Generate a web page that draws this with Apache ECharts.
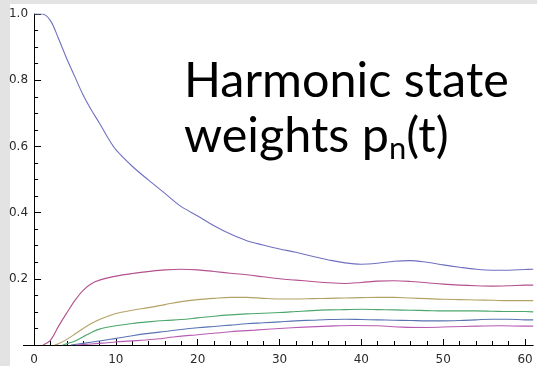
<!DOCTYPE html>
<html>
<head>
<meta charset="utf-8">
<script src="https://cdn.jsdelivr.net/npm/echarts@6/dist/echarts.min.js"></script>
<style>
  html, body { margin: 0; padding: 0; background: #e3e3e3; }
  #panel { position: absolute; left: 10px; top: 4px; width: 527px; height: 362px; background: #ffffff; }
  #chart { position: absolute; left: 0; top: 0; width: 537px; height: 366px; }
</style>
</head>
<body>
<div id="panel"></div>
<div id="chart"></div>
<script>
// Tick values for the two axes
const xMajorTicks = [0, 10, 20, 30, 40, 50, 60];
const xMinorTicks = [2, 4, 6, 8, 12, 14, 16, 18, 22, 24, 26, 28, 32, 34, 36, 38,
                     42, 44, 46, 48, 52, 54, 56, 58];
const yTickLabels = [0.2, 0.4, 0.6, 0.8, 1.0];

// Occupation probabilities p_n(t) of the lowest harmonic states, n = 0..5
const p0 = [[0, 1.0], [1, 1.0], [2, 0.98], [3, 0.925], [4, 0.865], [5, 0.81], [6, 0.755],
  [7, 0.71], [8, 0.67], [9, 0.627], [10, 0.59], [12, 0.54], [14, 0.498], [16, 0.458],
  [18, 0.418], [20, 0.39], [22, 0.36], [24, 0.335], [26, 0.315], [28, 0.302], [30, 0.29],
  [32, 0.28], [34, 0.268], [36, 0.257], [38, 0.248], [40, 0.244], [42, 0.247], [44, 0.253],
  [46, 0.255], [48, 0.25], [50, 0.242], [52, 0.235], [54, 0.229], [56, 0.226], [58, 0.226],
  [60, 0.228], [61, 0.229]];
const p1 = [[1.1, 0], [2, 0.014], [3, 0.057], [4, 0.097], [5, 0.135], [6, 0.165], [7, 0.185],
  [8, 0.196], [10, 0.208], [12, 0.216], [14, 0.222], [16, 0.227], [18, 0.229], [20, 0.227],
  [22, 0.222], [24, 0.217], [26, 0.212], [28, 0.206], [30, 0.2], [32, 0.196], [34, 0.192],
  [36, 0.188], [38, 0.186], [40, 0.189], [42, 0.193], [44, 0.194], [46, 0.192], [48, 0.188],
  [50, 0.184], [52, 0.181], [54, 0.179], [56, 0.178], [58, 0.179], [60, 0.181], [61, 0.181]];
const p2 = [[2.5, 0], [3, 0.004], [4, 0.017], [5, 0.033], [6, 0.05], [7, 0.065], [8, 0.077],
  [10, 0.095], [12, 0.105], [14, 0.113], [16, 0.122], [18, 0.131], [20, 0.137], [22, 0.141],
  [24, 0.144], [26, 0.144], [28, 0.141], [30, 0.139], [32, 0.139], [34, 0.14], [36, 0.141],
  [38, 0.142], [40, 0.143], [42, 0.144], [44, 0.144], [46, 0.142], [48, 0.14], [50, 0.138],
  [52, 0.137], [54, 0.136], [56, 0.135], [58, 0.134], [60, 0.134], [61, 0.134]];
const p3 = [[3.5, 0], [5, 0.012], [6, 0.025], [7, 0.038], [8, 0.048], [10, 0.058], [12, 0.065],
  [14, 0.07], [16, 0.074], [18, 0.077], [20, 0.082], [22, 0.087], [24, 0.091], [26, 0.094],
  [28, 0.096], [30, 0.098], [32, 0.101], [34, 0.104], [36, 0.106], [38, 0.107], [40, 0.108],
  [42, 0.107], [44, 0.106], [46, 0.105], [48, 0.104], [50, 0.103], [52, 0.103], [54, 0.103],
  [56, 0.102], [58, 0.101], [60, 0.101], [61, 0.1]];
const p4 = [[4.5, 0], [6, 0.005], [8, 0.012], [10, 0.02], [12, 0.028], [14, 0.035], [16, 0.041],
  [18, 0.047], [20, 0.052], [22, 0.056], [24, 0.06], [26, 0.064], [28, 0.067], [30, 0.07],
  [32, 0.073], [34, 0.075], [36, 0.077], [38, 0.078], [40, 0.077], [42, 0.076], [44, 0.075],
  [46, 0.074], [48, 0.073], [50, 0.073], [52, 0.074], [54, 0.076], [56, 0.078], [58, 0.078],
  [60, 0.076], [61, 0.076]];
const p5 = [[5, 0], [7, 0.003], [9, 0.007], [11, 0.011], [13, 0.014], [15, 0.018], [17, 0.024],
  [19, 0.029], [21, 0.033], [24, 0.04], [27, 0.045], [30, 0.05], [33, 0.054], [36, 0.057],
  [39, 0.059], [42, 0.058], [45, 0.054], [48, 0.053], [51, 0.055], [54, 0.057], [57, 0.058],
  [60, 0.057], [61, 0.057]];

const curves = [p0, p1, p2, p3, p4, p5];
const colors = ['#7070c2', '#b4508f', '#b3a265', '#4ca76c', '#5874b2', '#b65cb2'];

const X_MIN = -1.3, X_MAX = 61;
const GRID = { left: 23.4, right: 3.8, top: 14, bottom: 21 };
// The vertical axis sits at t = 0, a little inside the left edge of the plot area
const yAxisShift = -(0 - X_MIN) / (X_MAX - X_MIN) * (537 - GRID.left - GRID.right);

const chart = echarts.init(document.getElementById('chart'), null, { renderer: 'canvas' });

const tickFont = { fontFamily: 'DejaVu Sans', fontSize: 12, color: '#2a2a2a' };

chart.setOption({
  animation: false,
  grid: Object.assign({ outerBoundsMode: 'none', containLabel: false }, GRID),
  xAxis: [
    {
      type: 'value', min: X_MIN, max: X_MAX,
      axisLine: { show: true, onZero: false, lineStyle: { color: '#000', width: 1 } },
      axisTick: { show: true, inside: true, length: 6, customValues: xMajorTicks,
                  lineStyle: { color: '#000', width: 1 } },
      axisLabel: Object.assign({ margin: 9, customValues: xMajorTicks }, tickFont),
      splitLine: { show: false }
    },
    {
      type: 'value', min: X_MIN, max: X_MAX, position: 'bottom',
      axisLine: { show: false, onZero: false },
      axisTick: { show: true, inside: true, length: 4, customValues: xMinorTicks,
                  lineStyle: { color: '#000', width: 1 } },
      axisLabel: { show: false },
      splitLine: { show: false }
    }
  ],
  yAxis: {
    type: 'value', min: 0, max: 1, interval: 0.2,
    offset: yAxisShift,
    axisLine: { show: true, onZero: false, lineStyle: { color: '#000', width: 1 } },
    axisTick: { show: true, inside: true, length: 7, lineStyle: { color: '#000', width: 1 } },
    minorTick: { show: true, splitNumber: 4, length: 4, lineStyle: { color: '#000', width: 1 } },
    axisLabel: Object.assign({
      margin: 6, customValues: yTickLabels,
      formatter: v => v.toFixed(1)
    }, tickFont),
    splitLine: { show: false },
    minorSplitLine: { show: false }
  },
  series: curves.map((d, i) => ({
    type: 'line',
    data: d,
    xAxisIndex: 0,
    showSymbol: false,
    smooth: 0.35,
    lineStyle: { color: colors[i], width: 1.1 },
    z: 3
  })),
  graphic: [{
    type: 'text',
    left: 184,
    top: 57,
    style: {
      text: '{a|Harmonic state}\n{a|weights p}{n|n}{a|(t)}',
      rich: {
        a: { fontFamily: 'Lato', fontSize: 48.5, lineHeight: 55, fill: '#000', verticalAlign: 'middle' },
        n: { fontFamily: 'Lato', fontSize: 31, lineHeight: 2, fill: '#000', verticalAlign: 'bottom' }
      }
    }
  }]
});
</script>
</body>
</html>
